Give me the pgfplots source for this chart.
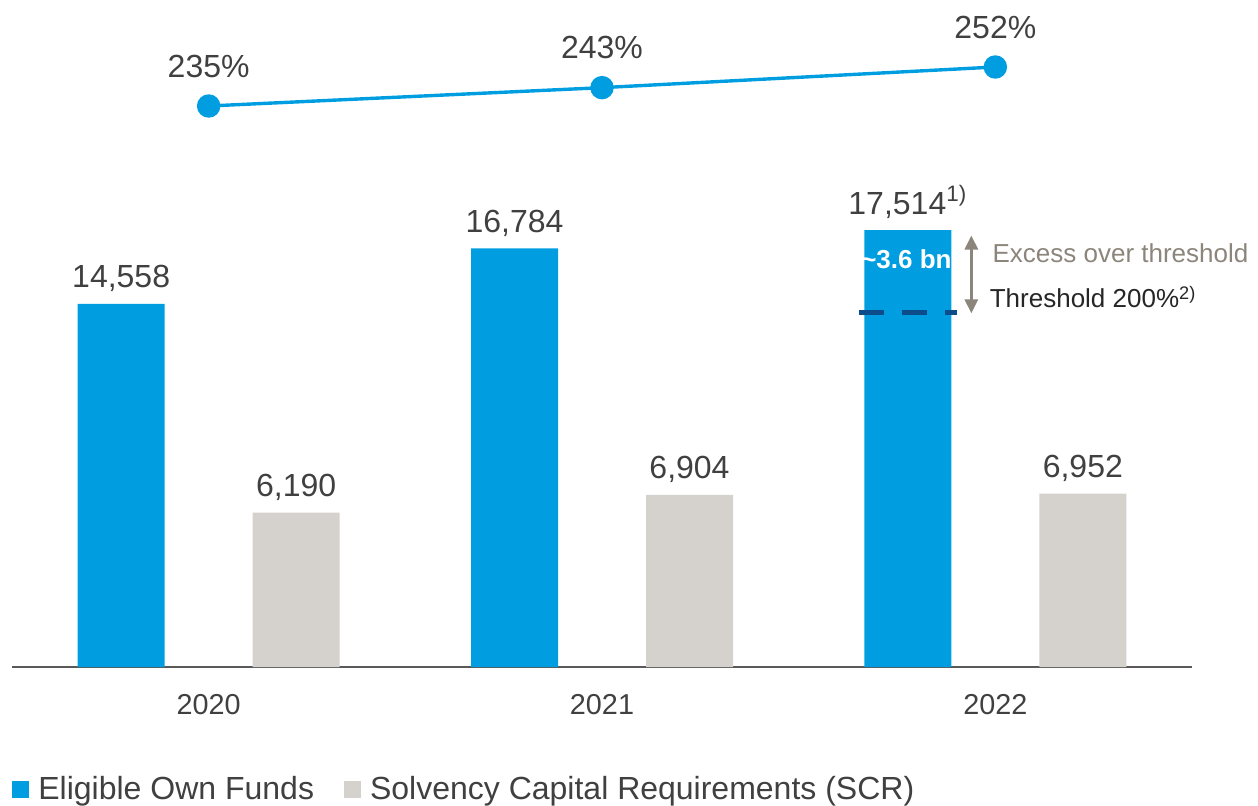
\documentclass[border=0pt]{standalone}
\usepackage{pgfplots}
\pgfplotsset{compat=1.18}
\usepackage{fontspec}
\setmainfont{Liberation Sans}
\usetikzlibrary{arrows.meta}

\definecolor{eofblue}{HTML}{009EE0}
\definecolor{scrgray}{HTML}{D5D2CE}
\definecolor{txtgray}{HTML}{404040}
\definecolor{annbrown}{HTML}{8C857B}
\definecolor{navy}{HTML}{0D4C8B}
\definecolor{axgray}{HTML}{595959}

\begin{document}
\begin{tikzpicture}
\useasboundingbox (-6pt,-69pt) rectangle (623pt,333.5pt);

% bars: own funds and SCR
\begin{axis}[
  at={(0,0)}, anchor=south west,
  scale only axis, width=590pt, height=333.5pt,
  xmin=-0.5, xmax=2.5, ymin=0, ymax=26744,
  ybar, bar width=43.5pt,
  axis y line=none, axis x line*=bottom,
  x axis line style={draw=axgray, line width=0.75pt, -},
  xtick={0,1,2}, xticklabels={2020,2021,2022},
  major tick length=0pt,
  xticklabel style={anchor=base, yshift=-23.5pt, text=txtgray,
    font=\fontsize{14.4}{17}\selectfont},
  clip=false,
  nodes near coords,
  point meta=explicit symbolic,
  every node near coord/.append style={anchor=base, yshift=8pt,
    text=txtgray, font=\fontsize{16}{19}\selectfont},
  legend style={at={(0.0,-0.183)}, anchor=west, draw=none, fill=none,
    inner sep=0pt, legend columns=2,
    font=\fontsize{16}{19}\selectfont, text=txtgray,
    /tikz/every odd column/.style={column sep=2.5pt},
    /tikz/every even column/.style={column sep=13pt}},
  legend image code/.code={\fill[#1,draw=none] (0pt,-4.25pt) rectangle (8.5pt,4.25pt);},
]
\addplot[fill=eofblue, draw=none, bar shift=-43.75pt] coordinates {
  (0,14558) [14,558]
  (1,16784) [16,784]
  (2,17514) [{17,514\textsuperscript{1)}}]
};
\addplot[fill=scrgray, draw=none, bar shift=43.75pt] coordinates {
  (0,6190) [6,190]
  (1,6904) [6,904]
  (2,6952) [6,952]
};
\legend{Eligible Own Funds, Solvency Capital Requirements (SCR)}

% threshold annotation on the 2022 bar
\draw[navy, line width=2.5pt, dash pattern=on 12.5pt off 9pt]
  (axis cs:1.654,14230) -- (axis cs:1.903,14230);
\draw[annbrown, line width=1.5pt, {Triangle[width=6.5pt,length=7pt]}-{Triangle[width=6.5pt,length=7pt]}]
  (axis cs:1.939,17300) -- (axis cs:1.939,14180);
\node[anchor=base, text=white, font=\bfseries\fontsize{13}{15}\selectfont, inner sep=0pt]
  at (axis cs:1.774,15998) {\textasciitilde3.6 bn};
\node[anchor=base west, text=annbrown, font=\fontsize{13}{15}\selectfont, inner sep=0pt]
  at (axis cs:1.992,16239) {Excess over threshold};
\node[anchor=base west, text=black!85, font=\fontsize{13}{15}\selectfont, inner sep=0pt]
  at (axis cs:1.985,14395) {Threshold 200\%\textsuperscript{2)}};
\end{axis}

% solvency ratio line
\begin{axis}[
  at={(0,0)}, anchor=south west,
  scale only axis, width=590pt, height=333.5pt,
  xmin=-0.5, xmax=2.5, ymin=-9.54, ymax=281.21,
  hide axis, clip=false,
  nodes near coords,
  point meta=explicit symbolic,
  every node near coord/.append style={anchor=base, yshift=14.5pt,
    text=txtgray, font=\fontsize{16}{19}\selectfont},
]
\addplot[color=eofblue, line width=1.7pt, mark=*, mark size=5pt,
  mark options={fill=eofblue, draw=none}] coordinates {
  (0,235) [235\%]
  (1,243) [243\%]
  (2,252) [252\%]
};
\end{axis}
\end{tikzpicture}
\end{document}
